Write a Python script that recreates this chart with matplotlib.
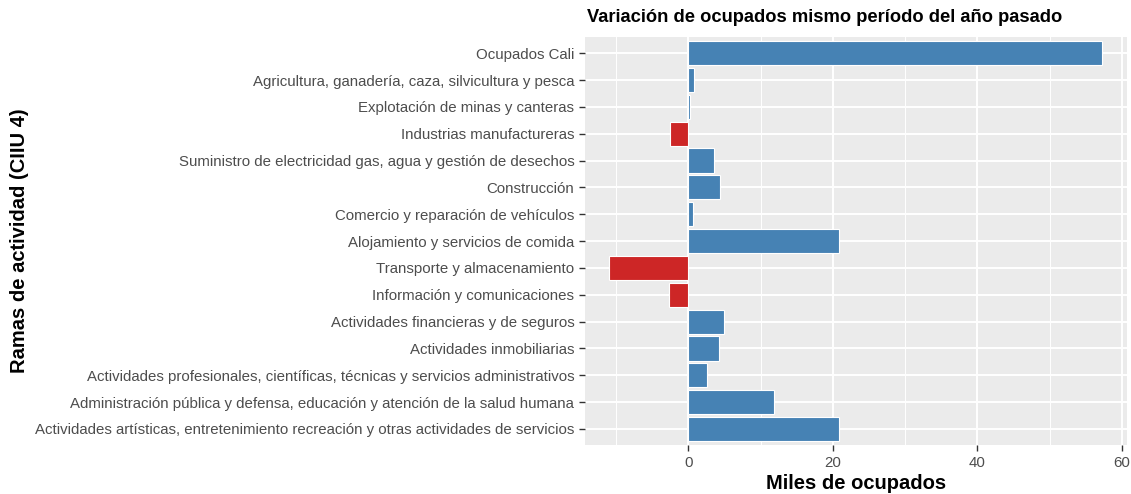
import numpy as np
import matplotlib
matplotlib.use('Agg')
import matplotlib.pyplot as plt
from matplotlib.ticker import MultipleLocator

plt.rcParams['font.family'] = ['Liberation Sans', 'DejaVu Sans']

ramas = ['Ocupados Cali',
         'Agricultura, ganadería, caza, silvicultura y pesca',
         'Explotación de minas y canteras',
         'Industrias manufactureras',
         'Suministro de electricidad gas, agua y gestión de desechos',
         'Construcción',
         'Comercio y reparación de vehículos',
         'Alojamiento y servicios de comida',
         'Transporte y almacenamiento',
         'Información y comunicaciones',
         'Actividades financieras y de seguros',
         'Actividades inmobiliarias',
         'Actividades profesionales, científicas, técnicas y servicios administrativos',
         'Administración pública y defensa, educación y atención de la salud humana',
         'Actividades artísticas, entretenimiento recreación y otras actividades de servicios']
variacion = [57.3, 0.8, 0.2, -2.6, 3.6, 4.3, 0.6, 20.8, -10.95, -2.75, 4.9, 4.2, 2.5, 11.9, 20.8]

azul = '#4682B4'
rojo = '#CD2626'

fig = plt.figure(figsize=(11.31, 4.94), dpi=100)
ax = fig.add_axes([0.517, 0.099, 0.4795, 0.826])

y = np.arange(len(ramas))
colores = [azul if v >= 0 else rojo for v in variacion]
ax.barh(y, variacion, height=0.9, color=colores, edgecolor='white', linewidth=0.8, zorder=3)

ax.set_facecolor('#EBEBEB')
for s in ax.spines.values():
    s.set_visible(False)
ax.xaxis.set_major_locator(MultipleLocator(20))
ax.xaxis.set_minor_locator(MultipleLocator(10))
ax.grid(which='major', color='white', linewidth=1.4, zorder=1)
ax.grid(which='minor', axis='x', color='white', linewidth=0.7, zorder=1)

lo, hi = min(variacion), max(variacion)
pad = (hi - lo) * 0.05
ax.set_xlim(lo - pad, hi + pad)
ax.set_ylim(len(ramas) - 0.4, -0.6)
ax.set_yticks(y)
ax.set_yticklabels(ramas)
ax.tick_params(axis='both', which='major', labelsize=10.8, labelcolor='#4D4D4D',
               color='#333333', length=4, width=1)
ax.tick_params(axis='x', which='minor', length=0)

ax.set_xlabel('Miles de ocupados', fontsize=14.5, fontweight='bold', labelpad=3)
fig.text(20 / 1131, 1 - 241 / 494, 'Ramas de actividad (CIIU 4)', fontsize=14.5,
         fontweight='bold', rotation=90, ha='center', va='center')
ax.set_title('Variación de ocupados mismo período del año pasado', fontsize=13.2,
             fontweight='bold', loc='left', x=0.005, pad=11)

fig.savefig('out.png', dpi=100)
